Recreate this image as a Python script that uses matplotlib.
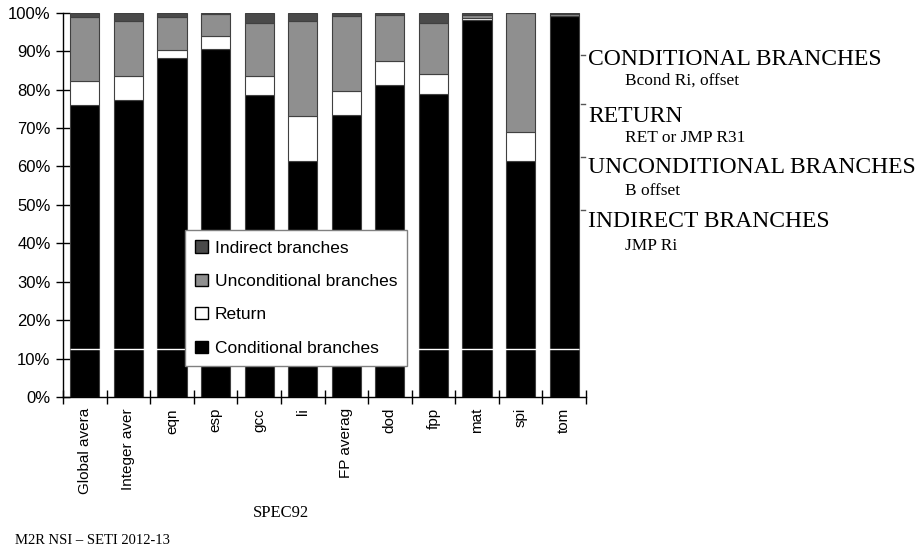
import matplotlib
matplotlib.use("Agg")
import matplotlib.pyplot as plt
from matplotlib.lines import Line2D
from matplotlib.patches import Patch
import numpy as np

categories = ["Global avera", "Integer aver", "eqn", "esp", "gcc", "li",
              "FP averag", "dod", "fpp", "mat", "spi", "tom"]
conditional = [76.0, 77.4, 88.1, 90.6, 78.5, 61.3, 73.4, 81.3, 78.8, 98.2, 61.5, 99.2]
ret = [6.1, 6.0, 2.2, 3.4, 4.9, 11.7, 6.1, 6.2, 5.3, 0.3, 7.4, 0.0]
unconditional = [16.9, 14.5, 8.5, 5.6, 13.9, 24.9, 19.7, 11.9, 13.3, 0.9, 30.9, 0.5]
indirect = [1.0, 2.1, 1.2, 0.4, 2.7, 2.1, 0.8, 0.6, 2.6, 0.6, 0.2, 0.3]
ytick_vals = [0, 10, 20, 30, 40, 50, 60, 70, 80, 90, 100]

W, H = 923, 549
fig = plt.figure(figsize=(W / 100, H / 100), dpi=100)
ax = fig.add_axes([63 / W, 1 - 397 / H, (586 - 63) / W, (397 - 12.7) / H])

x = np.arange(len(categories))
c = np.array(conditional)
r = np.array(ret)
u = np.array(unconditional)
i_ = np.array(indirect)
ec = "#404040"
bw = 0.67
ax.bar(x, c, bw, color="black", edgecolor=ec, linewidth=0.8, zorder=2)
ax.bar(x, r, bw, bottom=c, color="white", edgecolor=ec, linewidth=0.8, zorder=2)
ax.bar(x, u, bw, bottom=c + r, color="#8f8f8f", edgecolor=ec, linewidth=0.8, zorder=2)
ax.bar(x, i_, bw, bottom=c + r + u, color="#4a4a4a", edgecolor=ec, linewidth=0.8, zorder=2)

ax.hlines(12.6, x[0] - bw / 2, x[-1] + bw / 2, color="white", linewidth=1.0, zorder=3)

ax.set_xlim(-0.5, len(categories) - 0.5)
ax.set_ylim(0, 100)
ax.set_yticks(ytick_vals)
ax.set_yticklabels([f"{v}%" for v in ytick_vals], family="Liberation Sans", fontsize=12)
ax.set_xticks(x)
ax.set_xticklabels(categories, rotation=90, family="Liberation Sans", fontsize=11)
ax.tick_params(axis="x", length=0, pad=8)
ax.set_xticks(np.arange(-0.5, len(categories)), minor=True)
ax.tick_params(axis="x", which="minor", direction="inout", length=10, width=1)
ax.tick_params(axis="y", direction="inout", length=10, width=1, pad=4)
for s in ["top", "right"]:
    ax.spines[s].set_visible(False)
ax.spines["left"].set_linewidth(1)
ax.spines["bottom"].set_linewidth(1)

handles = [Patch(facecolor="#4a4a4a", edgecolor="black"),
           Patch(facecolor="#8f8f8f", edgecolor="black"),
           Patch(facecolor="white", edgecolor="black"),
           Patch(facecolor="black", edgecolor="black")]
labels = ["Indirect branches", "Unconditional branches", "Return", "Conditional branches"]
leg = fig.legend(handles, labels, loc="upper left",
                 bbox_to_anchor=(185 / W, 1 - 230 / H), borderaxespad=0,
                 prop={"family": "Liberation Sans", "size": 12.5},
                 frameon=True, fancybox=False, framealpha=1, edgecolor="#808080",
                 handlelength=0.7, handleheight=0.7, handletextpad=0.4,
                 labelspacing=1.05, borderpad=0.6)
leg.get_frame().set_linewidth(1)
leg.set_zorder(10)

fig.text(281 / W, 1 - 513 / H, "SPEC92", family="Liberation Serif", fontsize=12,
         ha="center", va="center")
fig.text(15 / W, 1 - 540 / H, "M2R NSI \u2013 SETI 2012-13", family="Liberation Serif",
         fontsize=10.5, ha="left", va="center")

mains = ["CONDITIONAL BRANCHES", "RETURN", "UNCONDITIONAL BRANCHES", "INDIRECT BRANCHES"]
subs = ["Bcond Ri, offset", "RET or JMP R31", "B offset", "JMP Ri"]
main_base = [65, 122, 173, 227]
sub_base = [85, 142, 195, 250]
bullet_y = [55, 104, 157, 210]
for m, s, mb, sb, by in zip(mains, subs, main_base, sub_base, bullet_y):
    fig.text(588 / W, 1 - mb / H, m, family="Liberation Serif", fontsize=17,
             ha="left", va="baseline")
    fig.text(625 / W, 1 - sb / H, s, family="Liberation Serif", fontsize=12.5,
             ha="left", va="baseline")
    fig.add_artist(Line2D([581 / W, 585 / W], [1 - by / H, 1 - by / H],
                          color="#555555", linewidth=1))

fig.savefig("out.png", dpi=100)
